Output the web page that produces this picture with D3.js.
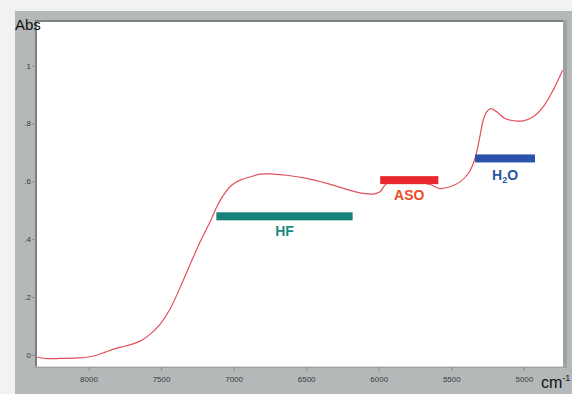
<!DOCTYPE html>
<html>
<head>
<meta charset="utf-8">
<script src="https://cdn.jsdelivr.net/npm/d3@7"></script>
<style>
  html, body { margin: 0; padding: 0; background: #f0f2f4; }
  svg { display: block; }
</style>
</head>
<body>
<svg id="chart" width="572" height="394"></svg>
<script>
// NIR absorbance spectrum (wavenumber in cm-1, absorbance)
const wavenumber = [8353, 8298, 8195, 8071, 8002, 7940, 7885, 7816, 7747, 7678, 7630, 7575, 7506, 7437, 7346, 7277, 7219, 7162, 7116, 7070, 7012, 6955, 6886, 6817, 6726, 6634, 6496, 6358, 6220, 6106, 6037, 5991, 5957, 5922, 5853, 5750, 5646, 5578, 5509, 5440, 5383, 5348, 5330, 5303, 5280, 5256, 5227, 5187, 5130, 5050, 5004, 4935, 4867, 4798, 4733];
const absorbance = [-0.007, -0.012, -0.012, -0.010, -0.007, 0.000, 0.010, 0.022, 0.031, 0.041, 0.052, 0.072, 0.107, 0.160, 0.259, 0.339, 0.403, 0.460, 0.512, 0.552, 0.587, 0.604, 0.615, 0.625, 0.625, 0.621, 0.610, 0.593, 0.572, 0.558, 0.556, 0.564, 0.587, 0.600, 0.607, 0.600, 0.589, 0.575, 0.581, 0.598, 0.627, 0.662, 0.690, 0.754, 0.811, 0.840, 0.851, 0.840, 0.817, 0.808, 0.809, 0.823, 0.857, 0.915, 0.984];

// Absorption band regions
const bandNames = ["HF", "ASO", "H2O"];
const bandStart = [7119, 5990, 5336];
const bandEnd = [6180, 5589, 4923];
const bandLevel = [0.479, 0.604, 0.679];
const bandColors = ["#17817a", "#e8262b", "#2a52ab"];
const labelColors = ["#1d8a80", "#ee4a26", "#2a54a6"];

// Axis ticks
const xTicks = [8000, 7500, 7000, 6500, 6000, 5500, 5000];
const yTicks = [0, 0.2, 0.4, 0.6, 0.8, 1];
const yTickLabels = ["0", ".2", ".4", ".6", ".8", "1"];

const svg = d3.select("#chart");
const plot = { left: 37, right: 563, top: 22, bottom: 366 };

const x = d3.scaleLinear().domain([8355, 4730]).range([plot.left, plot.right]);
const y = d3.scaleLinear().domain([0, 1]).range([355, 65.5]);

// Grey instrument panel
svg.append("rect").attr("x", 15).attr("y", 11).attr("width", 557).attr("height", 383).attr("fill", "#b4b8b8");

// Plot frame: dark inset top/left, lighter bottom/right
svg.append("rect").attr("x", plot.left - 2).attr("y", plot.top - 2)
  .attr("width", plot.right - plot.left + 6).attr("height", plot.bottom - plot.top + 4)
  .attr("fill", "#9ea2a2");
svg.append("rect").attr("x", plot.left - 2).attr("y", plot.top - 2)
  .attr("width", plot.right - plot.left + 2).attr("height", plot.bottom - plot.top + 2)
  .attr("fill", "#7c8080");
svg.append("rect").attr("x", plot.left).attr("y", plot.top)
  .attr("width", plot.right - plot.left).attr("height", plot.bottom - plot.top + 1)
  .attr("fill", "#dadcdc");
svg.append("rect").attr("x", plot.left).attr("y", plot.top)
  .attr("width", plot.right - plot.left).attr("height", plot.bottom - plot.top)
  .attr("fill", "#ffffff");

const tickFont = "'Liberation Sans Narrow', 'Liberation Sans', Arial, sans-serif";

// X axis
const xAxis = d3.axisBottom(x).tickValues(xTicks).tickSize(4).tickSizeOuter(0).tickFormat(d3.format("d"));
const gx = svg.append("g").attr("transform", `translate(0,${plot.bottom + 1})`).call(xAxis);
gx.select(".domain").remove();
gx.selectAll(".tick line").attr("stroke", "#8a8e8e");
gx.selectAll(".tick text").attr("fill", "#3a3c3c").attr("font-family", tickFont)
  .attr("font-size", 8).attr("dy", "0.71em").attr("y", 9);

// Y axis
const yAxis = d3.axisLeft(y).tickValues(yTicks).tickSize(4).tickSizeOuter(0)
  .tickFormat((d, i) => yTickLabels[i]);
const gy = svg.append("g").attr("transform", `translate(${plot.left - 1},0)`).call(yAxis);
gy.select(".domain").remove();
gy.selectAll(".tick line").attr("stroke", "#8a8e8e");
gy.selectAll(".tick text").attr("fill", "#3a3c3c").attr("font-family", tickFont)
  .attr("font-size", 8).attr("x", -5);

// Axis titles
svg.append("text").attr("x", 15).attr("y", 30).text("Abs")
  .attr("font-family", tickFont).attr("font-size", 15).attr("fill", "#111");
const cm = svg.append("text").attr("x", 541).attr("y", 388)
  .attr("font-family", tickFont).attr("font-size", 16).attr("fill", "#111");
cm.append("tspan").text("cm");
cm.append("tspan").text("-1").attr("font-size", 9).attr("dy", -7);

// Spectrum
const pts = wavenumber.map((w, i) => [w, absorbance[i]]);
const line = d3.line().x(d => x(d[0])).y(d => y(d[1])).curve(d3.curveCatmullRom.alpha(0.5));
svg.append("path").datum(pts).attr("d", line)
  .attr("fill", "none").attr("stroke", "#e2505c").attr("stroke-width", 1.2);

// Band bars and labels
const labelFont = "'Liberation Sans', Arial, sans-serif";
bandNames.forEach((name, i) => {
  const x0 = x(bandStart[i]), x1 = x(bandEnd[i]);
  svg.append("rect").attr("x", x0).attr("y", y(bandLevel[i]) - 4)
    .attr("width", x1 - x0).attr("height", 8).attr("fill", bandColors[i]);
  const t = svg.append("text").attr("x", (x0 + x1) / 2).attr("y", y(bandLevel[i]) + 20)
    .attr("text-anchor", "middle").attr("font-family", labelFont)
    .attr("font-weight", "bold").attr("font-size", 14).attr("fill", labelColors[i]);
  if (name === "H2O") {
    t.attr("y", y(bandLevel[i]) + 21.5);
    t.append("tspan").text("H");
    t.append("tspan").text("2").attr("font-size", 9).attr("dy", 3);
    t.append("tspan").text("O").attr("dy", -3);
  } else {
    t.text(name);
  }
});
</script>
</body>
</html>
